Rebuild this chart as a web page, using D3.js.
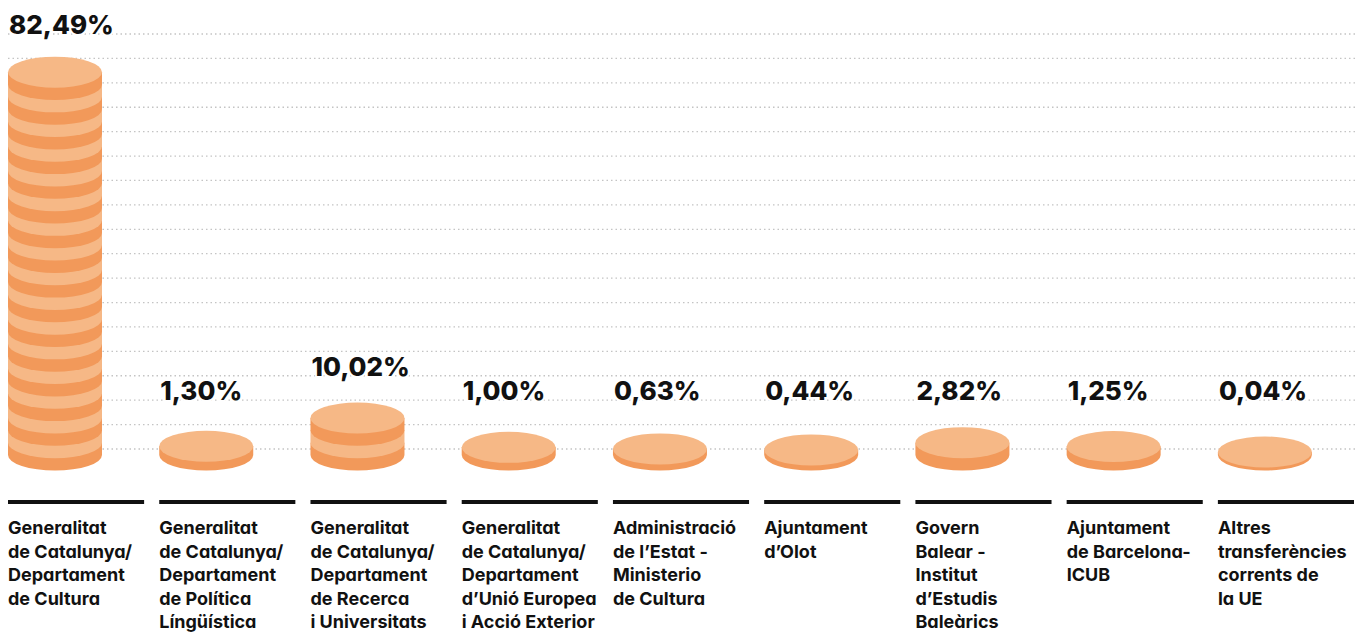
<!DOCTYPE html>
<html>
<head>
<meta charset="utf-8">
<script src="https://cdn.jsdelivr.net/npm/d3@7"></script>
<style>
  body { margin: 0; background: #fff; }
  svg { display: block; font-family: Inter, "Noto Sans", sans-serif; font-feature-settings: "cv11"; }
</style>
</head>
<body>
<div id="chart"></div>
<script>
const categories = ["cultura", "politica", "recerca", "exterior", "estat", "olot", "balear", "bcn", "ue"];
const values = [82.49, 1.30, 10.02, 1.00, 0.63, 0.44, 2.82, 1.25, 0.04];
const labels = [
    ["Generalitat", "de Catalunya/", "Departament", "de Cultura"],
    ["Generalitat", "de Catalunya/", "Departament", "de Política", "Língüística"],
    ["Generalitat", "de Catalunya/", "Departament", "de Recerca", "i Universitats"],
    ["Generalitat", "de Catalunya/", "Departament", "d’Unió Europea", "i Acció Exterior"],
    ["Administració", "de l’Estat -", "Ministerio", "de Cultura"],
    ["Ajuntament", "d’Olot"],
    ["Govern", "Balear -", "Institut", "d’Estudis", "Baleàrics"],
    ["Ajuntament", "de Barcelona-", "ICUB"],
    ["Altres", "transferències", "corrents de", "la UE"]
];

const width = 1369;
const height = 632;
const baseY = 455;       // centre of the bottom ellipse of every stack
const rx = 47, ry = 15.5;
const coinValue = 2.62;  // % per full coin
const light = "#f6b886", dark = "#f2995a";

const svg = d3.select("#chart")
    .append("svg")
    .attr("width", width)
    .attr("height", height);

const x = d3.scaleBand()
    .domain(categories)
    .range([8, 1354])
    .paddingInner(0.1)
    .paddingOuter(0);

// one coin = coinValue %, drawn pitch px thick
const coinScale = d3.scaleLinear().domain([0, coinValue]).range([0, 12.35]);
const partScale = d3.scaleSqrt().domain([0, coinValue]).range([0, 12.35]);
const pitch = coinScale(coinValue);

const gridY = d3.scaleLinear().domain([0, 17]).range([449, 34]);
const gridTicks = d3.range(0, 18).map(gridY);

svg.append("g")
    .selectAll("line")
    .data(gridTicks)
    .enter()
    .append("line")
    .attr("x1", 8)
    .attr("x2", 1356)
    .attr("y1", d => d)
    .attr("y2", d => d)
    .attr("stroke", "#c4c4c4")
    .attr("stroke-width", 1.3)
    .attr("stroke-dasharray", "1.5,3");

const fmt = d3.formatLocale({ decimal: ",", thousands: ".", grouping: [3], currency: ["", "€"] }).format(".2f");

const data = categories.map((c, i) => {
    const v = values[i];
    const n = Math.floor(v / coinValue);
    const bands = [];
    let thick;
    if (n >= 1) {
        thick = n * pitch;
        for (let k = 0; k < n; k++) {
            const yBot = baseY - k * pitch;
            bands.push({ yBot, yTop: yBot - pitch, fill: (n - 1 - k) % 2 === 0 ? dark : light });
        }
    } else {
        thick = Math.max(3, partScale(v));
        bands.push({ yBot: baseY, yTop: baseY - thick, fill: dark });
    }
    return { key: c, value: v, bands, top: baseY - thick, lines: labels[i] };
});

const col = svg.selectAll(".col")
    .data(data)
    .enter()
    .append("g")
    .attr("class", "col")
    .attr("transform", d => `translate(${x(d.key)},0)`);

col.selectAll(".band")
    .data(d => d.bands)
    .enter()
    .append("path")
    .attr("class", "band")
    .attr("fill", d => d.fill)
    .attr("d", d => `M0,${d.yTop} L0,${d.yBot} A${rx},${ry} 0 0 0 ${2 * rx},${d.yBot} L${2 * rx},${d.yTop} Z`);

col.append("ellipse")
    .attr("cx", rx)
    .attr("cy", d => d.top)
    .attr("rx", rx)
    .attr("ry", ry)
    .attr("fill", light);

col.append("text")
    .attr("x", 1)
    .attr("y", d => d3.max(gridTicks.filter(g => g <= d.top - ry - 20)))
    .attr("font-size", 26)
    .attr("font-weight", 800)
    .attr("fill", "#111")
    .attr("stroke", "#fff")
    .attr("stroke-width", 4)
    .attr("paint-order", "stroke")
    .text(d => fmt(d.value) + "%");

col.append("line")
    .attr("x1", 0)
    .attr("x2", x.bandwidth())
    .attr("y1", 502)
    .attr("y2", 502)
    .attr("stroke", "#111")
    .attr("stroke-width", 4);

col.append("text")
    .attr("font-size", 18)
    .attr("font-weight", 700)
    .attr("fill", "#111")
    .selectAll("tspan")
    .data(d => d.lines)
    .enter()
    .append("tspan")
    .attr("x", 0)
    .attr("y", (d, i) => 534 + i * 23.6)
    .text(d => d);
</script>
</body>
</html>
